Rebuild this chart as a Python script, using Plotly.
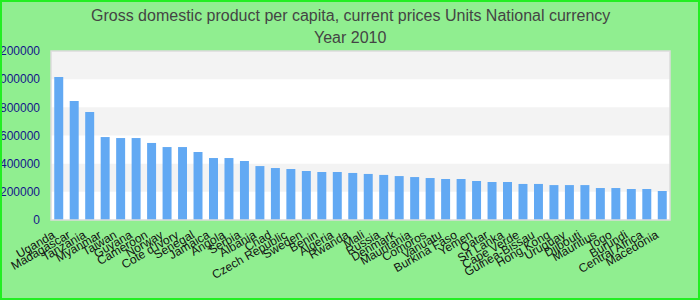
import plotly.graph_objects as go

countries = ["Uganda", "Madagascar", "Tanzania", "Myanmar", "Taiwan", "Guyana", "Cameroon",
             "Norway", "Cote d'Ivory", "Senegal", "Jamaica", "Angola", "Serbia", "Albania",
             "Chad", "Czech Republic", "Sweden", "Benin", "Algeria", "Rwanda", "Mali", "Russia",
             "Denmark", "Mauritania", "Comoros", "Vanuatu", "Burkina Faso", "Yemen", "Qatar",
             "Sri Lanka", "Cape Verde", "Guinea-Bissau", "Hong Kong", "Uruguay", "Djibouti",
             "Mauritius", "Togo", "Burundi", "Central Africa", "Macedonia"]
values = [1015000, 845000, 767000, 589000, 582000, 582000, 547000, 518000, 518000, 483000,
          440000, 440000, 419000, 383000, 369000, 362000, 348000, 341000, 341000, 334000,
          327000, 320000, 312000, 305000, 298000, 291000, 291000, 277000, 270000, 270000,
          256000, 256000, 248000, 248000, 248000, 227000, 227000, 220000, 220000, 206000]
y_ticks = [0, 200000, 400000, 600000, 800000, 1000000, 1200000]
title_lines = ["Gross domestic product per capita, current prices Units National currency", "Year 2010"]

W, H = 700, 300
ml, mr, mt, mb = 51, 30, 51, 80
pw, ph = W - ml - mr, H - mt - mb

fig = go.Figure(go.Bar(x=countries, y=values, marker=dict(color="#62a9f3", line=dict(width=0)),
                       hoverinfo="x+y"))

shapes = []
for i in range(1, len(y_ticks) - 1, 2):
    shapes.append(dict(type="rect", xref="paper", yref="y", x0=0, x1=1,
                       y0=y_ticks[i], y1=y_ticks[i + 1], fillcolor="#f3f3f3",
                       line=dict(width=0), layer="below"))
# plot area border
shapes.append(dict(type="rect", xref="paper", yref="paper", x0=0, x1=1, y0=0, y1=1,
                   line=dict(color="#dcdcdc", width=1.5), layer="above"))
# outer green border
shapes.append(dict(type="rect", xref="paper", yref="paper",
                   x0=(-ml + 1) / pw, x1=(W - ml - 1) / pw,
                   y0=(-mb + 1) / ph, y1=(H - mb - 1) / ph,
                   line=dict(color="#22ee22", width=2), layer="above"))

annotations = []
for line, ypx in zip(title_lines, [15, 37]):
    annotations.append(dict(text=line, xref="paper", yref="paper",
                            x=(W / 2 - ml) / pw, y=1 + (mt - ypx) / ph,
                            xanchor="center", yanchor="middle", showarrow=False,
                            font=dict(size=16, color="#444444")))

fig.update_layout(
    width=W, height=H,
    margin=dict(l=ml, r=mr, t=mt, b=mb, autoexpand=False),
    paper_bgcolor="#90ee90",
    plot_bgcolor="#ffffff",
    font=dict(family="Liberation Sans, Arial, sans-serif"),
    showlegend=False,
    bargap=0.42,
    shapes=shapes,
    annotations=annotations,
    xaxis=dict(tickangle=-30, tickfont=dict(size=12, color="#111111"), showgrid=False,
               showline=False, zeroline=False, ticks="", automargin=False,
               ticklabelshift=-6, ticklabelstandoff=5,
               range=[-0.5, len(countries) - 0.5]),
    yaxis=dict(range=[0, 1200000], tickvals=y_ticks, ticktext=[str(v) for v in y_ticks],
               tickfont=dict(size=12, color="#14148a"), showgrid=False, zeroline=False,
               showline=False, ticks="", automargin=False, ticklabelstandoff=10),
)

fig.write_html("out.html")
